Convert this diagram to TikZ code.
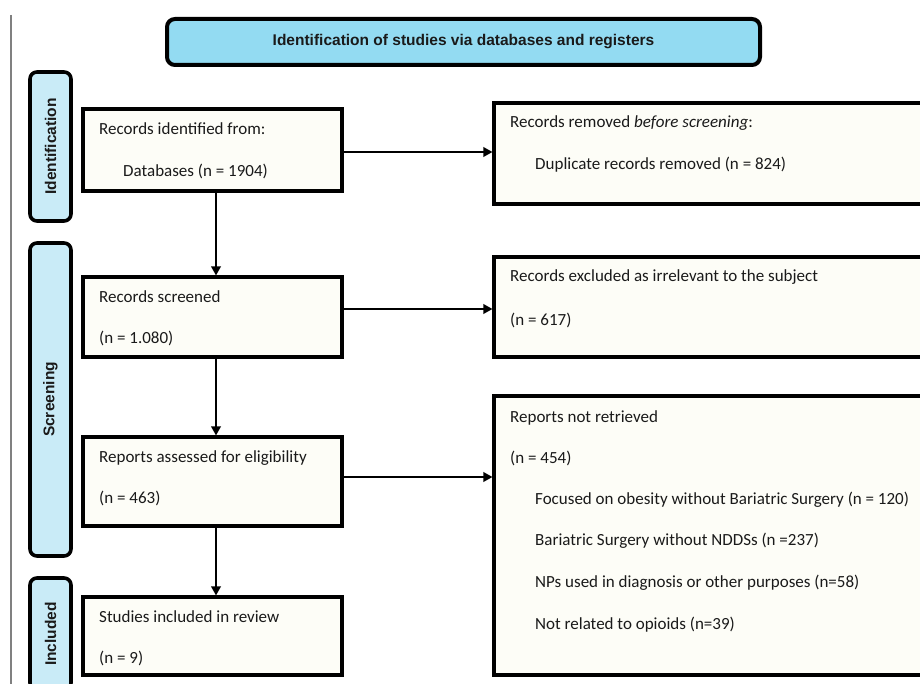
\documentclass[tikz,border=0pt]{standalone}
\usepackage{fontspec}
\setmainfont{Carlito}
\newfontfamily\headfont{Liberation Sans}
\usetikzlibrary{positioning, arrows.meta}

\definecolor{headblue}{HTML}{93DBF2}
\definecolor{sideblue}{HTML}{C9EBF7}
\definecolor{boxfill}{HTML}{FDFDF7}
\definecolor{inkgray}{HTML}{1A1A1A}
\definecolor{rulegray}{HTML}{808080}

\begin{document}
\begin{tikzpicture}[
	x=1pt,
	y=-1pt,
	titlebox/.style={draw=black, line width=4pt, fill=headblue, rounded corners=8pt, minimum width=593pt, minimum height=46pt, inner sep=0pt, font=\headfont\bfseries\fontsize{15.5}{18}\selectfont, text=inkgray},
	stagebox/.style={draw=black, line width=3.6pt, fill=sideblue, rounded corners=7pt, rotate=90, minimum height=41pt, inner sep=0pt, font=\headfont\bfseries\fontsize{15.5}{18}\selectfont, text=inkgray},
	flowbox/.style={draw=black, line width=3.1pt, fill=boxfill, rectangle, inner sep=0pt},
	flowtext/.style={anchor=base west, inner sep=0pt, font=\fontsize{17}{20}\selectfont, text=inkgray},
	arrowline/.style={line width=1.9pt, draw=black},
	>={Triangle[length=9pt, width=9.5pt]}
]

\useasboundingbox (0,0) rectangle (920,684);

\draw[line width=1.6pt, rulegray] (11,15) -- (11,684);

\node[titlebox] (title) at (463.5, 42) {Identification of studies via databases and registers};

\foreach \n/\t/\y/\h in {ident/Identification/146.5/149, screen/Screening/399.5/313, incl/Included/634/112}
	\node[stagebox, minimum width=\h pt] (stage-\n) at (50.5, \y) {\t};

% left column
\node[flowbox, minimum width=259pt, minimum height=82pt] (ident-box) at (212.5, 150) {};
\node[flowbox, minimum width=259pt, minimum height=80pt] (screen-box) at (212.5, 317) {};
\node[flowbox, minimum width=259pt, minimum height=89pt] (assess-box) at (212.5, 481.5) {};
\node[flowbox, minimum width=259pt, minimum height=78pt] (incl-box) at (212.5, 636) {};

% right column
\node[flowbox, minimum width=446pt, minimum height=101pt] (removed-box) at (717, 153.5) {};
\node[flowbox, minimum width=446pt, minimum height=100pt] (excl-box) at (717, 307) {};
\node[flowbox, minimum width=446pt, minimum height=279pt] (notret-box) at (717, 535.5) {};

\node[flowtext] (ident-1) at (99, 135) {Records identified from:};
\node[flowtext] (ident-2) at (123, 177) {Databases (n = 1904)};

\node[flowtext] (screen-1) at (99, 302) {Records screened};
\node[flowtext] (screen-2) at (99, 343) {(n = 1.080)};

\node[flowtext] (assess-1) at (99, 462) {Reports assessed for eligibility};
\node[flowtext] (assess-2) at (99, 503) {(n = 463)};

\node[flowtext] (incl-1) at (99, 622) {Studies included in review};
\node[flowtext] (incl-2) at (99, 663) {(n = 9)};

\node[flowtext] (removed-1) at (510, 128) {Records removed \textit{before screening}:};
\node[flowtext] (removed-2) at (535, 170) {Duplicate records removed (n = 824)};

\node[flowtext] (excl-1) at (510, 282) {Records excluded as irrelevant to the subject};
\node[flowtext] (excl-2) at (510, 325) {(n = 617)};

\node[flowtext] (notret-1) at (510, 422) {Reports not retrieved};
\node[flowtext] (notret-2) at (510, 463) {(n = 454)};
\foreach \t [count=\i from 3] in {Focused on obesity without Bariatric Surgery (n = 120), Bariatric Surgery without NDDSs (n =237), NPs used in diagnosis or other purposes (n=58), Not related to opioids (n=39)}
	\node[flowtext] (notret-\i) at (535, 504+41.7*\i-125.1) {\t};

% arrows
\draw[->, arrowline] ([xshift=3.5pt]ident-box.south) -- ([xshift=3.5pt]screen-box.north);
\draw[->, arrowline] ([xshift=3.5pt]screen-box.south) -- ([xshift=3.5pt]assess-box.north);
\draw[->, arrowline] ([xshift=3.5pt]assess-box.south) -- ([xshift=3.5pt]incl-box.north);

\draw[->, arrowline] ([yshift=-2pt]ident-box.east) -- ([yshift=-2pt]ident-box.east -| removed-box.west);
\draw[->, arrowline] ([yshift=8pt]screen-box.east) -- ([yshift=8pt]screen-box.east -| excl-box.west);
\draw[->, arrowline] ([yshift=4.5pt]assess-box.east) -- ([yshift=4.5pt]assess-box.east -| notret-box.west);

\end{tikzpicture}
\end{document}
